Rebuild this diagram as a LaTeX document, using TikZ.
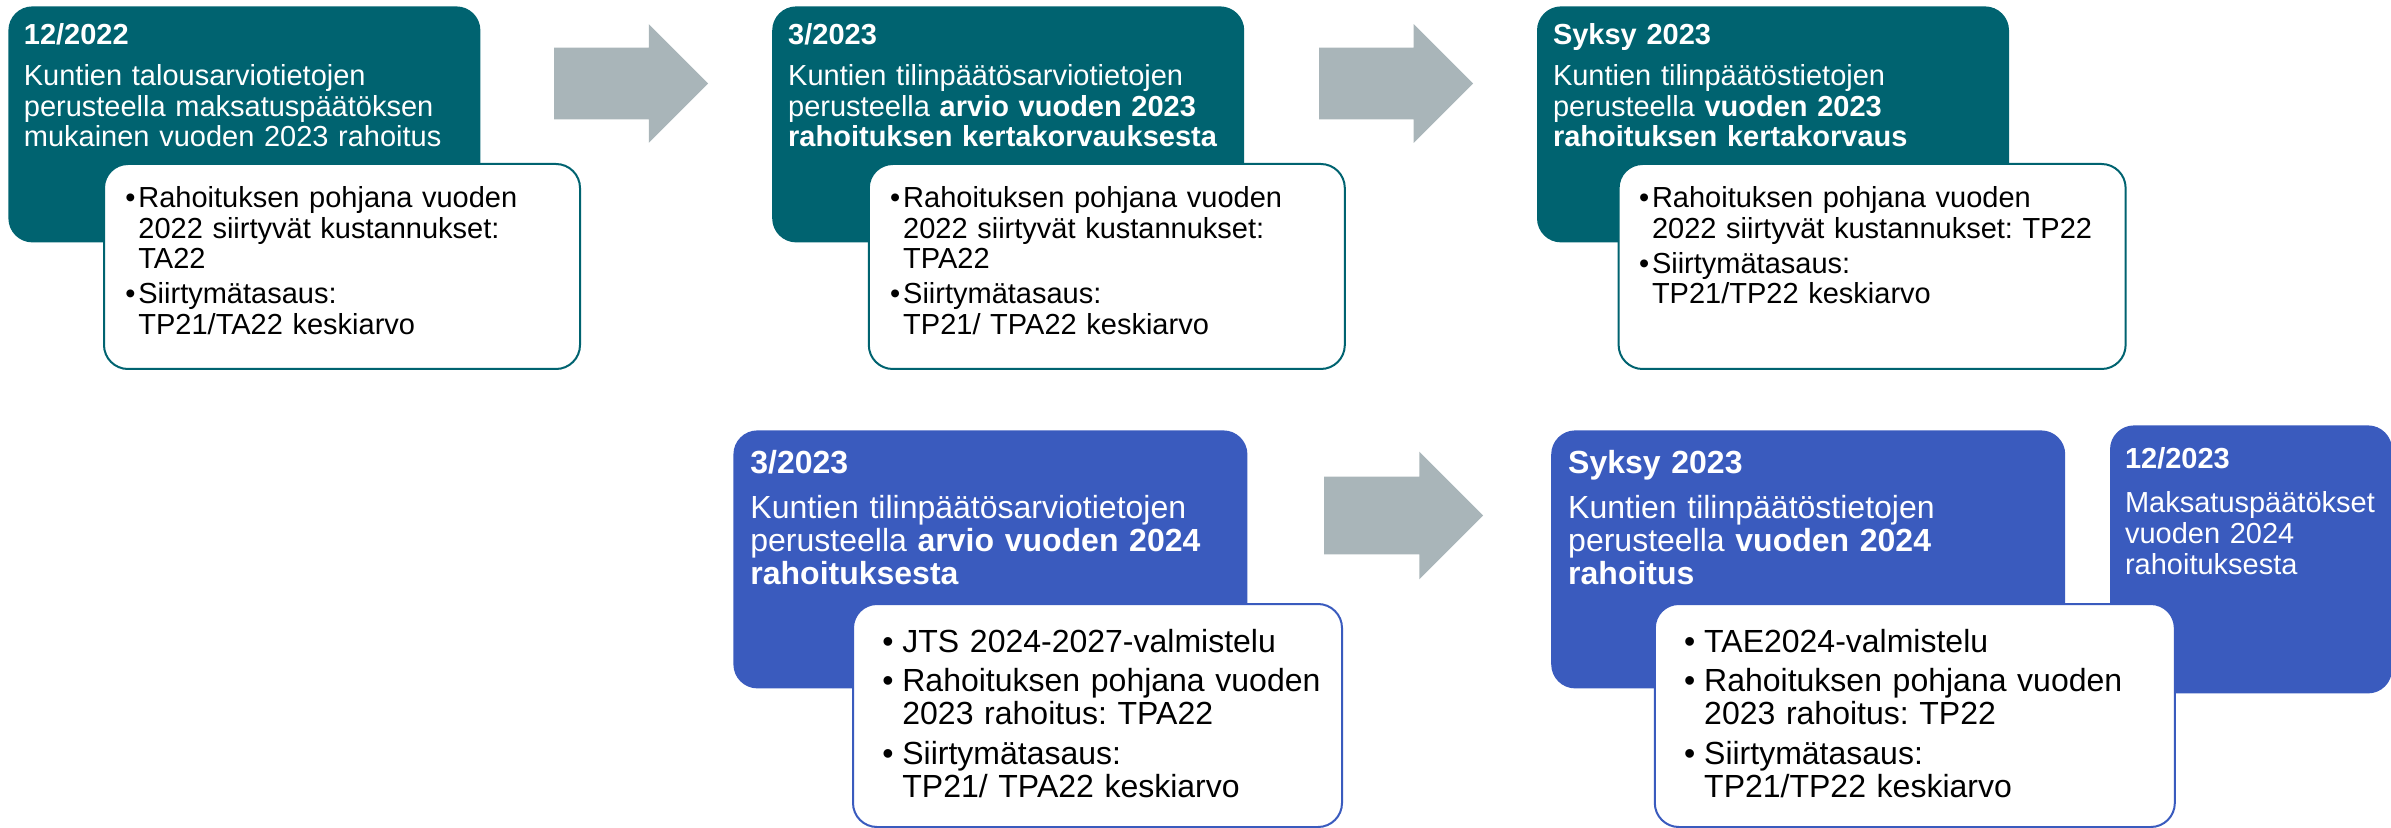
\documentclass[tikz,border=0pt]{standalone}
\usepackage{fontspec}
\setmainfont{Liberation Sans}
\usepackage{xcolor}
\usepackage{tikz}
\usetikzlibrary{positioning, shapes.arrows}

\definecolor{tealbox}{RGB}{0,99,112}
\definecolor{bluebox}{RGB}{58,91,190}
\definecolor{arrowgrey}{RGB}{169,181,185}

\newcommand{\bul}{\leavevmode\llap{\makebox[6.5pt][l]{\textbullet}}}
\newcommand{\bbul}{\leavevmode\llap{\makebox[10pt][l]{\textbullet}}}

\begin{document}
\frenchspacing
\begin{tikzpicture}[
    x=0.5pt, y=-0.5pt,
    stage/.style={
        rectangle,
        rounded corners=12pt,
        fill=#1,
        inner sep=0pt
    },
    topstage/.style={stage=tealbox, minimum width=236pt, minimum height=118pt},
    botstage/.style={stage=bluebox, minimum width=257pt, minimum height=129pt},
    info/.style={
        rectangle,
        rounded corners=12pt,
        draw=#1,
        line width=1pt,
        fill=white,
        inner sep=0pt
    },
    bigarrow/.style={
        single arrow,
        fill=arrowgrey,
        inner xsep=0pt,
        single arrow head extend=#1
    },
    toptext/.style={
        text=white, align=left, text width=228pt, inner sep=0pt, anchor=base west,
        font=\fontsize{14.5pt}{15.25pt}\selectfont
    },
    bottext/.style={
        text=white, align=left, text width=248pt, inner sep=0pt, anchor=base west,
        font=\fontsize{16pt}{16.5pt}\selectfont
    },
    infotext/.style={
        text=black, align=left, text width=225pt, inner sep=0pt, anchor=base west,
        font=\fontsize{14.5pt}{15.25pt}\selectfont
    },
    binfotext/.style={
        text=black, align=left, text width=225pt, inner sep=0pt, anchor=base west,
        font=\fontsize{16pt}{16.5pt}\selectfont
    }
]
\useasboundingbox (0,0) rectangle (2391,828);

% ===== Top row (2023 funding) =====
\node[topstage, anchor=north west] (top1) at (8,6) {};
\node[topstage, right=145.5pt of top1] (top2) {};
\node[topstage, right=146pt of top2] (top3) {};

\node[info=tealbox, minimum width=238pt, minimum height=102.5pt,
      below right=78.5pt and 47.5pt of top1.north west] (info1) {};
\node[info=tealbox, minimum width=238pt, minimum height=102.5pt,
      below right=78.5pt and 48pt of top2.north west] (info2) {};
\node[info=tealbox, minimum width=253.5pt, minimum height=102.5pt,
      below right=78.5pt and 40.5pt of top3.north west] (info3) {};

\node[bigarrow=11.75pt, inner ysep=17.75pt, minimum height=77pt,
      right=36.5pt of top1.north east, yshift=-38.75pt] (arr1) {};
\node[bigarrow=11.75pt, inner ysep=17.75pt, minimum height=77pt,
      right=37pt of top2.north east, yshift=-38.75pt] (arr2) {};

\node[toptext] (top1txt) at ([shift={(7.75pt,-19.5pt)}]top1.north west)
    {\textbf{12/2022}\\[5.25pt]
     Kuntien talousarviotietojen\\
     perusteella maksatuspäätöksen\\
     mukainen vuoden 2023 rahoitus};
\node[toptext] (top2txt) at ([shift={(8pt,-19.5pt)}]top2.north west)
    {\textbf{3/2023}\\[5.25pt]
     Kuntien tilinpäätösarviotietojen\\
     perusteella \textbf{arvio vuoden 2023}\\
     \textbf{rahoituksen kertakorvauksesta}};
\node[toptext] (top3txt) at ([shift={(8pt,-19.5pt)}]top3.north west)
    {\textbf{Syksy 2023}\\[5.25pt]
     Kuntien tilinpäätöstietojen\\
     perusteella \textbf{vuoden 2023}\\
     \textbf{rahoituksen kertakorvaus}};

\node[infotext] (info1txt) at ([shift={(17.5pt,-22.5pt)}]info1.north west)
    {\bul Rahoituksen pohjana vuoden\\
     2022 siirtyvät kustannukset:\\
     TA22\\[2.25pt]
     \bul Siirtymätasaus:\\
     TP21/TA22 keskiarvo};
\node[infotext] (info2txt) at ([shift={(17.5pt,-22.5pt)}]info2.north west)
    {\bul Rahoituksen pohjana vuoden\\
     2022 siirtyvät kustannukset:\\
     TPA22\\[2.25pt]
     \bul Siirtymätasaus:\\
     TP21/ TPA22 keskiarvo};
\node[infotext] (info3txt) at ([shift={(17pt,-22.5pt)}]info3.north west)
    {\bul Rahoituksen pohjana vuoden\\
     2022 siirtyvät kustannukset: TP22\\[2.25pt]
     \bul Siirtymätasaus:\\
     TP21/TP22 keskiarvo};

% ===== Bottom row (2024 funding) =====
\node[botstage, anchor=north west] (bot1) at (733,430) {};
\node[botstage, right=151.5pt of bot1] (bot2) {};
\node[stage=bluebox, minimum width=141pt, minimum height=134pt,
      right=22pt of bot2] (bot3) {};

\node[info=bluebox, minimum width=244.5pt, minimum height=111.5pt,
      below right=86.5pt and 59.5pt of bot1.north west] (binfo1) {};
\node[info=bluebox, minimum width=260pt, minimum height=111.5pt,
      below right=86.5pt and 51.5pt of bot2.north west] (binfo2) {};

\node[bigarrow=12.5pt, inner ysep=19.25pt, minimum height=79.5pt,
      right=38pt of bot1.north east, yshift=-42.75pt] (arr3) {};

\node[bottext] (bot1txt) at ([shift={(8.5pt,-21.5pt)}]bot1.north west)
    {\textbf{3/2023}\\[6pt]
     Kuntien tilinpäätösarviotietojen\\
     perusteella \textbf{arvio vuoden 2024}\\
     \textbf{rahoituksesta}};
\node[bottext] (bot2txt) at ([shift={(8.5pt,-21.5pt)}]bot2.north west)
    {\textbf{Syksy 2023}\\[6pt]
     Kuntien tilinpäätöstietojen\\
     perusteella \textbf{vuoden 2024}\\
     \textbf{rahoitus}};
\node[toptext, text width=133pt, font=\fontsize{14.5pt}{15.5pt}\selectfont]
    (bot3txt) at ([shift={(7.5pt,-21.5pt)}]bot3.north west)
    {\textbf{12/2023}\\[6.5pt]
     Maksatuspäätökset\\
     vuoden 2024\\
     rahoituksesta};

\node[binfotext] (binfo1txt) at ([shift={(25pt,-24.5pt)}]binfo1.north west)
    {\bbul JTS 2024-2027-valmistelu\\[3.25pt]
     \bbul Rahoituksen pohjana vuoden\\
     2023 rahoitus: TPA22\\[3.25pt]
     \bbul Siirtymätasaus:\\
     TP21/ TPA22 keskiarvo};
\node[binfotext] (binfo2txt) at ([shift={(25pt,-24.5pt)}]binfo2.north west)
    {\bbul TAE2024-valmistelu\\[3.25pt]
     \bbul Rahoituksen pohjana vuoden\\
     2023 rahoitus: TP22\\[3.25pt]
     \bbul Siirtymätasaus:\\
     TP21/TP22 keskiarvo};

\end{tikzpicture}
\end{document}
